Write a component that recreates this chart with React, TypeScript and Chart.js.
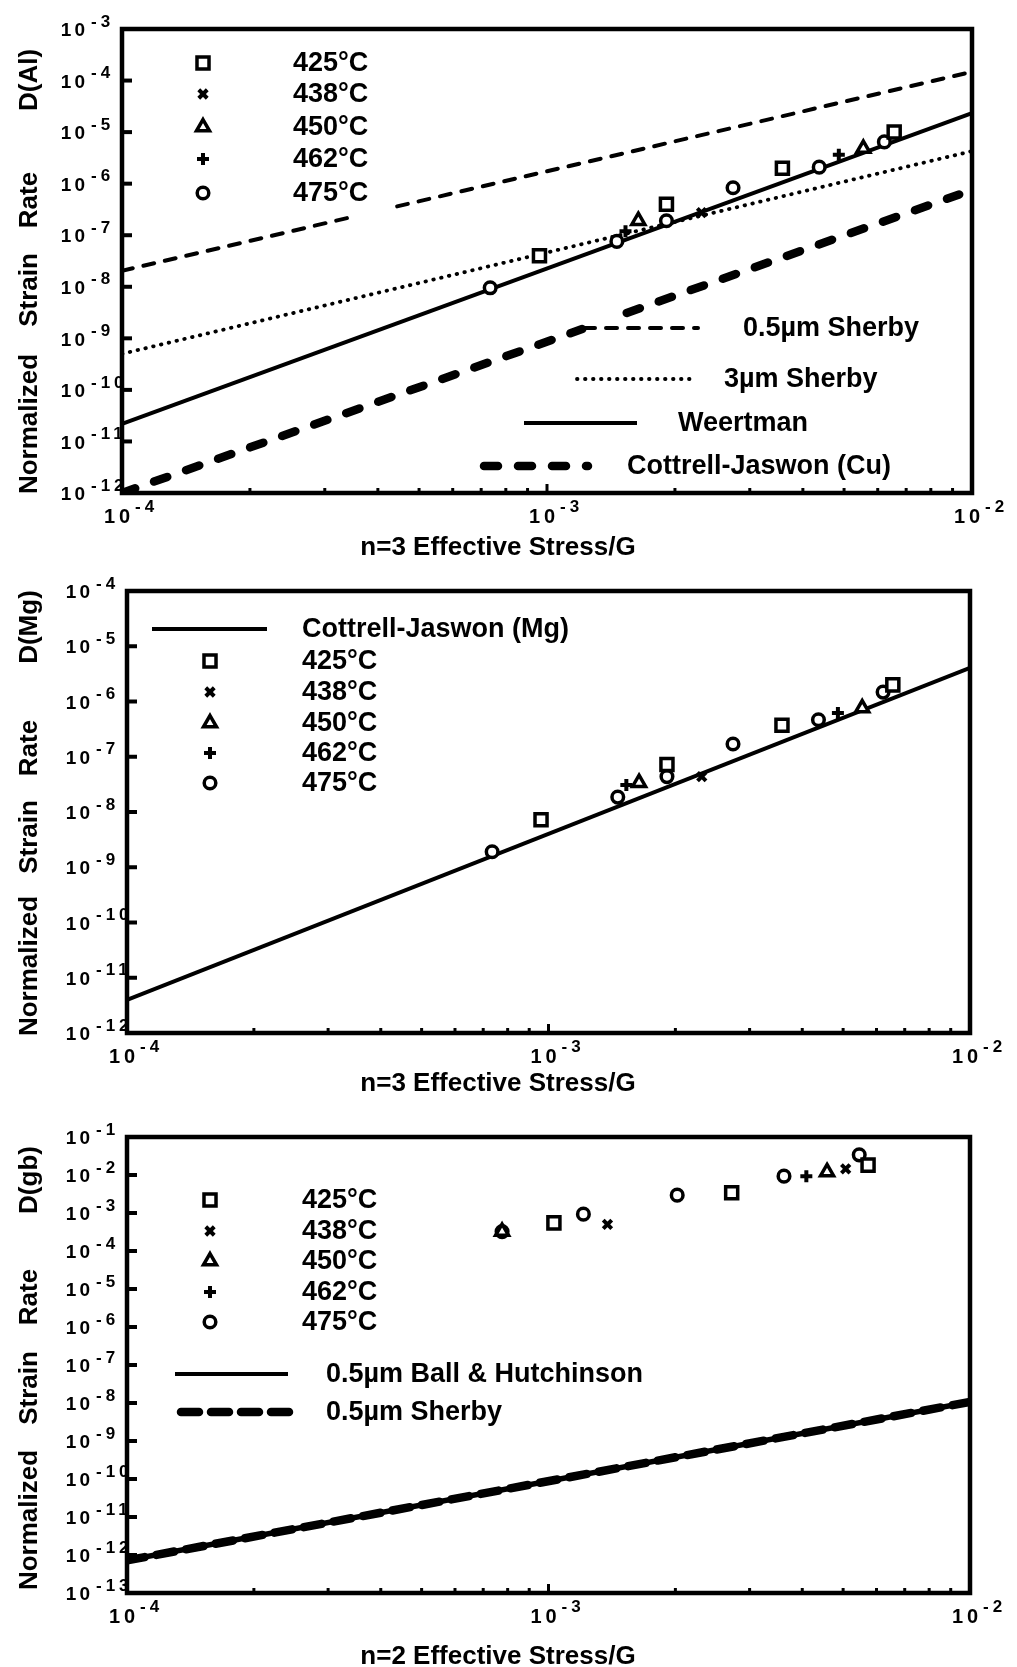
import React, { useEffect, useRef } from 'react';
import { Chart, registerables } from 'chart.js';
import { drawPoint } from 'chart.js/helpers';

Chart.register(...registerables);

const FONT = '"Liberation Sans", Arial, Helvetica, sans-serif';
const W = 1017;

// ---------- DATA ----------
const temps = ['425°C', '438°C', '450°C', '462°C', '475°C'];
const xTickExps = [-4, -3, -2];
const p1YTickExps = [-12, -11, -10, -9, -8, -7, -6, -5, -4, -3];
const p2YTickExps = [-12, -11, -10, -9, -8, -7, -6, -5, -4];
const p3YTickExps = [-13, -12, -11, -10, -9, -8, -7, -6, -5, -4, -3, -2, -1];

// n=3 effective stress / G (panels 1 and 2)
const n3X_425 = [9.6e-4, 1.91e-3, 3.58e-3, 6.56e-3];
const n3X_438 = [2.31e-3];
const n3X_450 = [1.64e-3, 5.55e-3];
const n3X_462 = [1.53e-3, 4.86e-3];
const n3X_475 = [7.35e-4, 1.46e-3, 1.91e-3, 2.74e-3, 4.37e-3, 6.22e-3];

// normalized strain rate, D(Al)
const al_425 = [3.98e-8, 3.98e-7, 2.0e-6, 1.0e-5];
const al_438 = [2.75e-7];
const al_450 = [1.91e-7, 4.79e-6];
const al_462 = [1.2e-7, 3.63e-6];
const al_475 = [9.55e-9, 7.59e-8, 1.91e-7, 8.32e-7, 2.09e-6, 6.46e-6];

// normalized strain rate, D(Mg)
const mg_425 = [7.24e-9, 7.24e-8, 3.72e-7, 2.0e-6];
const mg_438 = [4.37e-8];
const mg_450 = [3.39e-8, 7.59e-7];
const mg_462 = [3.09e-8, 6.17e-7];
const mg_475 = [1.91e-9, 1.86e-8, 4.37e-8, 1.7e-7, 4.68e-7, 1.48e-6];

// n=2 effective stress / G (panel 3)
const n2X_425 = [1.03e-3, 2.72e-3, 5.73e-3];
const n2X_438 = [1.38e-3, 5.07e-3];
const n2X_450 = [7.76e-4, 4.58e-3];
const n2X_462 = [4.09e-3];
const n2X_475 = [7.76e-4, 1.21e-3, 2.02e-3, 3.62e-3, 5.46e-3];
// normalized strain rate, D(gb)
const gb_425 = [5.5e-4, 3.39e-3, 1.82e-2];
const gb_438 = [5.0e-4, 1.45e-2];
const gb_450 = [3.24e-4, 1.2e-2];
const gb_462 = [9.33e-3];
const gb_475 = [3.24e-4, 9.33e-4, 2.95e-3, 9.33e-3, 3.39e-2];

// model lines (panel 1)
const sherby05AX = [1e-4, 3.5e-4];
const sherby05AY = [2.04e-8, 2.29e-7];
const sherby05BX = [4.44e-4, 1e-2];
const sherby05BY = [3.63e-7, 1.48e-4];
const sherby3X = [1e-4, 1e-2];
const sherby3Y = [5.0e-10, 4.27e-6];
const weertmanX = [1e-4, 1e-2];
const weertmanY = [2.19e-11, 2.34e-5];
const cuAX = [1e-4, 1.21e-3];
const cuAY = [1.0e-12, 1.51e-9];
const cuBX = [1.54e-3, 9.33e-3];
const cuBY = [3.11e-9, 6.17e-7];
// panel 2
const cjMgX = [1e-4, 1e-2];
const cjMgY = [3.98e-12, 4.07e-6];
// panel 3
const ballX = [1e-4, 1e-2];
const ballY = [7.2e-13, 1.07e-8];
const sherbyGbX = [1e-4, 1e-2];
const sherbyGbY = [7.2e-13, 1.07e-8];

// ---------- STYLES ----------
const MARK: Record<string, any> = {
  '425°C': { pointStyle: 'rect', radius: 8.5, bw: 3.5 },
  '438°C': { pointStyle: 'crossRot', radius: 6, bw: 4 },
  '450°C': { pointStyle: 'triangle', radius: 7.5, bw: 3.5 },
  '462°C': { pointStyle: 'cross', radius: 6, bw: 4 },
  '475°C': { pointStyle: 'circle', radius: 5.8, bw: 3.5 },
};
const LINE: Record<string, any> = {
  sherby05: { borderWidth: 4, borderDash: [11, 11], borderCapStyle: 'round' },
  sherby3: { borderWidth: 3.8, borderDash: [0.5, 7.5], borderCapStyle: 'round' },
  solid: { borderWidth: 4, borderDash: [], borderCapStyle: 'butt' },
  solidGb: { borderWidth: 5.5, borderDash: [], borderCapStyle: 'butt' },
  thick: { borderWidth: 8.5, borderDash: [14, 20], borderCapStyle: 'round' },
  thickGb: { borderWidth: 8.5, borderDash: [18, 12], borderCapStyle: 'round' },
};

const zip = (xs: number[], ys: number[]) => xs.map((x, i) => ({ x, y: ys[i] }));

function pointDs(label: string, xs: number[], ys: number[]) {
  const m = MARK[label];
  return {
    label,
    data: zip(xs, ys),
    showLine: false,
    pointStyle: m.pointStyle,
    pointRadius: m.radius,
    pointBorderWidth: m.bw,
    pointBorderColor: '#000',
    pointBackgroundColor: '#fff',
    borderColor: '#000',
    backgroundColor: '#fff',
  };
}
function lineDs(label: string, xs: number[], ys: number[], style: string) {
  const s = LINE[style];
  return {
    label,
    data: zip(xs, ys),
    showLine: true,
    pointRadius: 0,
    borderColor: '#000',
    backgroundColor: '#000',
    borderWidth: s.borderWidth,
    borderDash: s.borderDash,
    borderCapStyle: s.borderCapStyle,
    fill: false,
    tension: 0,
  };
}

function strokeSample(ctx: CanvasRenderingContext2D, x1: number, x2: number, y: number, style: string) {
  const s = LINE[style];
  ctx.save();
  ctx.strokeStyle = '#000';
  ctx.lineWidth = s.borderWidth;
  ctx.setLineDash(s.borderDash);
  ctx.lineCap = s.borderCapStyle;
  ctx.beginPath();
  ctx.moveTo(x1, y);
  ctx.lineTo(x2, y);
  ctx.stroke();
  ctx.restore();
}

function drawMarker(ctx: CanvasRenderingContext2D, label: string, x: number, y: number) {
  const m = MARK[label];
  ctx.save();
  ctx.strokeStyle = '#000';
  ctx.fillStyle = '#fff';
  ctx.lineWidth = m.bw;
  ctx.setLineDash([]);
  drawPoint(ctx, { pointStyle: m.pointStyle, radius: m.radius, rotation: 0, borderWidth: m.bw } as any, x, y);
  ctx.restore();
}

const sup = (e: number) => '-' + Math.abs(e);

function makeDecor(cfg: any) {
  return {
    id: 'decor',
    afterDraw(chart: any) {
      const ctx: CanvasRenderingContext2D = chart.ctx;
      const xs = chart.scales.x;
      const ys = chart.scales.y;
      const a = chart.chartArea;
      const oy = cfg.top;
      ctx.save();
      ctx.fillStyle = '#000';
      ctx.strokeStyle = '#000';
      ctx.setLineDash([]);
      // frame
      ctx.lineWidth = 4.5;
      ctx.strokeRect(a.left, a.top, a.right - a.left, a.bottom - a.top);
      // y ticks (inward)
      ctx.lineWidth = 4;
      cfg.yTickExps.forEach((e: number) => {
        const py = ys.getPixelForValue(Math.pow(10, e));
        ctx.beginPath();
        ctx.moveTo(a.left, py);
        ctx.lineTo(a.left + 10, py);
        ctx.stroke();
      });
      // x minor ticks (inward)
      ctx.lineWidth = 3;
      [-4, -3].forEach((d) => {
        for (let m = 1; m <= 9; m++) {
          if (m === 1 && d === -4) continue;
          const px = xs.getPixelForValue(m * Math.pow(10, d));
          ctx.beginPath();
          ctx.moveTo(px, a.bottom);
          ctx.lineTo(px, a.bottom - (m === 1 ? 9 : 5));
          ctx.stroke();
        }
      });
      // y tick labels
      ctx.textBaseline = 'middle';
      cfg.yTickExps.forEach((e: number) => {
        const py = ys.getPixelForValue(Math.pow(10, e));
        ctx.font = `bold 19px ${FONT}`;
        (ctx as any).letterSpacing = '3px';
        ctx.textAlign = 'right';
        ctx.fillText('10', a.left - 34, py + 2);
        ctx.font = `bold 17px ${FONT}`;
        (ctx as any).letterSpacing = '4px';
        ctx.textAlign = 'left';
        ctx.fillText(sup(e), a.left - 31, py - 7);
      });
      // x tick labels
      xTickExps.forEach((e) => {
        const px = xs.getPixelForValue(Math.pow(10, e));
        ctx.font = `bold 20px ${FONT}`;
        (ctx as any).letterSpacing = '4px';
        ctx.textAlign = 'center';
        ctx.fillText('10', px - 3, a.bottom + 24);
        ctx.font = `bold 17px ${FONT}`;
        (ctx as any).letterSpacing = '4px';
        ctx.textAlign = 'left';
        ctx.fillText(sup(e), px + 13, a.bottom + 14);
      });
      (ctx as any).letterSpacing = '0px';
      // x title
      ctx.font = `bold 26px ${FONT}`;
      ctx.textAlign = 'center';
      ctx.fillText(cfg.xTitle, 498, cfg.xTitleY - oy);
      // y title words
      cfg.yWords.forEach((w: any) => {
        ctx.save();
        ctx.translate(30, w.cy - oy);
        ctx.rotate(-Math.PI / 2);
        ctx.font = `bold 26px ${FONT}`;
        ctx.textAlign = 'center';
        ctx.textBaseline = 'middle';
        ctx.fillText(w.text, 0, 0);
        ctx.restore();
      });
      // legend: markers
      ctx.textAlign = 'left';
      ctx.textBaseline = 'middle';
      temps.forEach((t, i) => {
        const y = cfg.markerYs[i] - oy;
        drawMarker(ctx, t, cfg.markerX, y);
        ctx.fillStyle = '#000';
        ctx.font = `bold 27px ${FONT}`;
        ctx.fillText(t, cfg.markerTextX, y + 1);
      });
      // legend: lines
      cfg.lineLegend.forEach((l: any) => {
        const y = l.y - oy;
        strokeSample(ctx, l.x1, l.x2, y, l.style);
        ctx.fillStyle = '#000';
        ctx.font = `bold 27px ${FONT}`;
        ctx.fillText(l.text, l.tx, y + 1);
      });
      ctx.restore();
    },
  };
}

const panel1 = {
  top: 0,
  height: 560,
  area: { left: 122, right: 972, top: 29, bottom: 493 },
  yMin: 1e-12,
  yMax: 1e-3,
  yTickExps: p1YTickExps,
  xTitle: 'n=3 Effective Stress/G',
  xTitleY: 548,
  yWords: [
    { text: 'Normalized', cy: 424 },
    { text: 'Strain', cy: 290 },
    { text: 'Rate', cy: 200 },
    { text: 'D(Al)', cy: 80 },
  ],
  markerX: 203,
  markerTextX: 293,
  markerYs: [63, 94, 127, 159, 193],
  lineLegend: [
    { text: '0.5µm Sherby', x1: 584, x2: 698, y: 328, tx: 743, style: 'sherby05' },
    { text: '3µm Sherby', x1: 577, x2: 690, y: 379, tx: 724, style: 'sherby3' },
    { text: 'Weertman', x1: 524, x2: 637, y: 423, tx: 678, style: 'solid' },
    { text: 'Cottrell-Jaswon (Cu)', x1: 484, x2: 588, y: 466, tx: 627, style: 'thick' },
  ],
  datasets: [
    pointDs('425°C', n3X_425, al_425),
    pointDs('438°C', n3X_438, al_438),
    pointDs('450°C', n3X_450, al_450),
    pointDs('462°C', n3X_462, al_462),
    pointDs('475°C', n3X_475, al_475),
    lineDs('0.5µm Sherby', sherby05AX, sherby05AY, 'sherby05'),
    lineDs('0.5µm Sherby', sherby05BX, sherby05BY, 'sherby05'),
    lineDs('3µm Sherby', sherby3X, sherby3Y, 'sherby3'),
    lineDs('Weertman', weertmanX, weertmanY, 'solid'),
    lineDs('Cottrell-Jaswon (Cu)', cuAX, cuAY, 'thick'),
    lineDs('Cottrell-Jaswon (Cu)', cuBX, cuBY, 'thick'),
  ],
};

const panel2 = {
  top: 560,
  height: 540,
  area: { left: 127, right: 970, top: 591, bottom: 1033 },
  yMin: 1e-12,
  yMax: 1e-4,
  yTickExps: p2YTickExps,
  xTitle: 'n=3 Effective Stress/G',
  xTitleY: 1084,
  yWords: [
    { text: 'Normalized', cy: 966 },
    { text: 'Strain', cy: 837 },
    { text: 'Rate', cy: 748 },
    { text: 'D(Mg)', cy: 627 },
  ],
  markerX: 210,
  markerTextX: 302,
  markerYs: [661, 692, 723, 753, 783],
  lineLegend: [
    { text: 'Cottrell-Jaswon (Mg)', x1: 152, x2: 267, y: 629, tx: 302, style: 'solid' },
  ],
  datasets: [
    pointDs('425°C', n3X_425, mg_425),
    pointDs('438°C', n3X_438, mg_438),
    pointDs('450°C', n3X_450, mg_450),
    pointDs('462°C', n3X_462, mg_462),
    pointDs('475°C', n3X_475, mg_475),
    lineDs('Cottrell-Jaswon (Mg)', cjMgX, cjMgY, 'solid'),
  ],
};

const panel3 = {
  top: 1100,
  height: 567,
  area: { left: 127, right: 970, top: 1137, bottom: 1593 },
  yMin: 1e-13,
  yMax: 1e-1,
  yTickExps: p3YTickExps,
  xTitle: 'n=2 Effective Stress/G',
  xTitleY: 1657,
  yWords: [
    { text: 'Normalized', cy: 1520 },
    { text: 'Strain', cy: 1388 },
    { text: 'Rate', cy: 1297 },
    { text: 'D(gb)', cy: 1180 },
  ],
  markerX: 210,
  markerTextX: 302,
  markerYs: [1200, 1231, 1261, 1292, 1322],
  lineLegend: [
    { text: '0.5µm Ball & Hutchinson', x1: 175, x2: 288, y: 1374, tx: 326, style: 'solid' },
    { text: '0.5µm Sherby', x1: 181, x2: 290, y: 1412, tx: 326, style: 'thickGb' },
  ],
  datasets: [
    pointDs('425°C', n2X_425, gb_425),
    pointDs('438°C', n2X_438, gb_438),
    pointDs('450°C', n2X_450, gb_450),
    pointDs('462°C', n2X_462, gb_462),
    pointDs('475°C', n2X_475, gb_475),
    lineDs('0.5µm Ball & Hutchinson', ballX, ballY, 'solidGb'),
    lineDs('0.5µm Sherby', sherbyGbX, sherbyGbY, 'thickGb'),
  ],
};

function Panel({ cfg }: { cfg: any }) {
  const ref = useRef<HTMLCanvasElement>(null);
  useEffect(() => {
    const canvas = ref.current;
    if (!canvas) return;
    const chart = new Chart(canvas, {
      type: 'scatter',
      data: { datasets: cfg.datasets },
      options: {
        animation: false,
        responsive: false,
        maintainAspectRatio: false,
        events: [],
        devicePixelRatio: 1,
        layout: {
          padding: {
            left: cfg.area.left,
            right: W - cfg.area.right,
            top: cfg.area.top - cfg.top,
            bottom: cfg.top + cfg.height - cfg.area.bottom,
          },
        },
        plugins: { legend: { display: false }, tooltip: { enabled: false }, title: { display: false } },
        scales: {
          x: { type: 'logarithmic', display: false, min: 1e-4, max: 1e-2 },
          y: { type: 'logarithmic', display: false, min: cfg.yMin, max: cfg.yMax },
        },
      } as any,
      plugins: [makeDecor(cfg)],
    });
    return () => chart.destroy();
  }, [cfg]);
  return (
    <canvas
      ref={ref}
      width={W}
      height={cfg.height}
      style={{ position: 'absolute', left: 0, top: cfg.top, width: W, height: cfg.height, display: 'block' }}
    />
  );
}

export default function App() {
  return (
    <div style={{ position: 'absolute', left: 0, top: 0, width: W, height: 1667, background: '#fff', overflow: 'hidden' }}>
      <Panel cfg={panel1} />
      <Panel cfg={panel2} />
      <Panel cfg={panel3} />
    </div>
  );
}
